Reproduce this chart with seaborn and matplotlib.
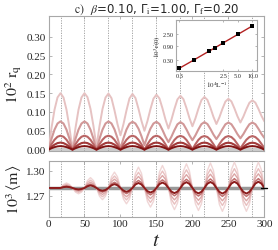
"""Quench dynamics: r_q(t) and <m>(t) for several system sizes, with scaling inset."""

import matplotlib

matplotlib.use("Agg")
import matplotlib.pyplot as plt
import numpy as np
import seaborn as sns
from matplotlib.ticker import FixedLocator, FixedFormatter, NullLocator

# time grid, 8 samples per oscillation period (T = 33.3)
t = np.linspace(0, 300, 73)

# half-period marks (dotted verticals)
t_half = [16.7, 50.0, 83.3, 116.7, 150.0, 183.3, 216.7, 250.0, 283.3]

# 10^2 r_q, smallest system (lightest) to largest (darkest)
rq_1 = [
    0, .0575, .106, .1386, .150, .1386, .106, .0575,
    0, .0575, .106, .1386, .150, .1392, .1084, .0624,
    .008, .062, .1077, .1383, .149, .1368, .1046, .068,
    .038, .0677, .104, .1359, .148, .1372, .1088, .0765,
    .050, .0759, .1076, .1354, .146, .1361, .110, .0803,
    .056, .0795, .1082, .1334, .143, .1341, .1106, .0839,
    .062, .0831, .1088, .1314, .140, .1321, .1112, .0874,
    .068, .0861, .1082, .1276, .135, .1281, .1098, .089,
    .072, .0879, .1074, .1245, .131, .1248, .1086, .0901,
    .075,
]
rq_2 = [
    0, .0287, .053, .0693, .075, .0693, .053, .0287,
    0, .0287, .053, .0693, .075, .0693, .053, .0287,
    0, .0287, .053, .0693, .075, .0695, .0539, .0306,
    .003, .0302, .0532, .0686, .074, .0693, .0558, .0357,
    .012, .0357, .0558, .0693, .074, .0681, .0524, .0346,
    .020, .0343, .0518, .0672, .073, .0677, .0538, .038,
    .025, .038, .0538, .0677, .073, .068, .055, .0402,
    .028, .0399, .0544, .0672, .072, .0674, .0552, .0413,
    .030, .0413, .0552, .0674, .072, .0675, .0556, .0421,
    .031,
]
rq_3 = [
    0, .0142, .0262, .0342, .037, .0342, .0262, .0142,
    0, .0142, .0262, .0342, .037, .0342, .0262, .0142,
    0, .0142, .0262, .0342, .037, .0342, .0262, .0142,
    0, .0142, .0262, .0342, .037, .0342, .0262, .0142,
    0, .0142, .0262, .0342, .037, .0342, .0262, .0142,
    0, .0140, .0258, .0337, .0365, .0337, .0258, .0140,
    .001, .0145, .0260, .0335, .036, .0335, .0260, .0145,
    .002, .0148, .0260, .0333, .036, .0333, .0260, .0150,
    .003, .0152, .0262, .0333, .036, .0333, .0262, .0155,
    .004,
]
rq_4 = [
    0, .0072, .0132, .0173, .0187, .0173, .0132, .0072,
    0, .0072, .0132, .0173, .0187, .0173, .0132, .0072,
    0, .0072, .0132, .0173, .0187, .0173, .0132, .0072,
    0, .0072, .0132, .0173, .0187, .0173, .0132, .0072,
    0, .0072, .0132, .0173, .0187, .0173, .0132, .0072,
    0, .0072, .0132, .0173, .0187, .0173, .0132, .0072,
    0, .0072, .0132, .0173, .0187, .0173, .0132, .0072,
    0, .0071, .0130, .0170, .0184, .0170, .0130, .0071,
    0, .0071, .0130, .0170, .0184, .0170, .0130, .0071,
    0,
]
rq_5 = [
    0, .0036, .0066, .0086, .0093, .0086, .0066, .0036,
    0, .0036, .0066, .0086, .0093, .0086, .0066, .0036,
    0, .0036, .0066, .0086, .0093, .0086, .0066, .0036,
    0, .0036, .0066, .0086, .0093, .0086, .0066, .0036,
    0, .0036, .0066, .0086, .0093, .0086, .0066, .0036,
    0, .0036, .0066, .0086, .0093, .0086, .0066, .0036,
    0, .0036, .0066, .0086, .0093, .0086, .0066, .0036,
    0, .0036, .0066, .0086, .0093, .0086, .0066, .0036,
    0, .0036, .0066, .0086, .0093, .0086, .0066, .0036,
    0,
]

# 10^3 <m>: equilibrium value and deviations from it
m_eq = 1.2792
dm_1 = [
    0, 0, 0, 0, 0, .0042, .006, .0042,
    0, -.005, -.007, -.005, 0, .0088, .0124, .0088,
    0, -.0099, -.014, -.0099, 0, .0134, .019, .0134,
    0, -.0134, -.019, -.0134, 0, .0177, .025, .0177,
    0, -.0163, -.023, -.0163, 0, .0191, .027, .0191,
    0, -.0184, -.026, -.0184, 0, .0205, .029, .0205,
    0, -.0191, -.027, -.0191, 0, .0212, .030, .0212,
    0, -.0198, -.028, -.0198, 0, .0219, .031, .0219,
    0, -.0198, -.028, -.0198, 0, .0219, .031, .0219,
    0,
]
dm_2 = [
    0, 0, 0, 0, 0, .0032, .0045, .0032,
    0, -.0037, -.0053, -.0037, 0, .0066, .0093, .0066,
    0, -.0074, -.0105, -.0074, 0, .0101, .0143, .0101,
    0, -.0101, -.0143, -.0101, 0, .0133, .0188, .0133,
    0, -.0122, -.0173, -.0122, 0, .0143, .0203, .0143,
    0, -.0138, -.0195, -.0138, 0, .0154, .0218, .0154,
    0, -.0143, -.0203, -.0143, 0, .0159, .0225, .0159,
    0, -.0149, -.021, -.0149, 0, .0164, .0232, .0164,
    0, -.0149, -.021, -.0149, 0, .0164, .0232, .0164,
    0,
]
dm_3 = [
    0, 0, 0, 0, 0, .0023, .0033, .0023,
    0, -.0027, -.0039, -.0027, 0, .0048, .0068, .0048,
    0, -.0054, -.0077, -.0054, 0, .0074, .0105, .0074,
    0, -.0074, -.0105, -.0074, 0, .0097, .0138, .0097,
    0, -.009, -.0127, -.009, 0, .0105, .0149, .0105,
    0, -.0101, -.0143, -.0101, 0, .0113, .016, .0113,
    0, -.0105, -.0149, -.0105, 0, .0117, .0165, .0117,
    0, -.0109, -.0154, -.0109, 0, .012, .017, .012,
    0, -.0109, -.0154, -.0109, 0, .012, .017, .012,
    0,
]
dm_4 = [
    0, 0, 0, 0, 0, .0015, .0022, .0015,
    0, -.0018, -.0025, -.0018, 0, .0032, .0045, .0032,
    0, -.0036, -.005, -.0036, 0, .0048, .0068, .0048,
    0, -.0048, -.0068, -.0048, 0, .0064, .009, .0064,
    0, -.0059, -.0083, -.0059, 0, .0069, .0097, .0069,
    0, -.0066, -.0094, -.0066, 0, .0074, .0104, .0074,
    0, -.0069, -.0097, -.0069, 0, .0076, .0108, .0076,
    0, -.0071, -.0101, -.0071, 0, .0079, .0112, .0079,
    0, -.0071, -.0101, -.0071, 0, .0079, .0112, .0079,
    0,
]
dm_5 = [
    0, 0, 0, 0, 0, .0010, .0014, .0010,
    0, -.0012, -.0017, -.0012, 0, .0021, .003, .0021,
    0, -.0024, -.0034, -.0024, 0, .0032, .0046, .0032,
    0, -.0032, -.0046, -.0032, 0, .0042, .006, .0042,
    0, -.0039, -.0055, -.0039, 0, .0046, .0065, .0046,
    0, -.0044, -.0062, -.0044, 0, .0049, .007, .0049,
    0, -.0046, -.0065, -.0046, 0, .0051, .0072, .0051,
    0, -.0047, -.0067, -.0047, 0, .0053, .0075, .0053,
    0, -.0047, -.0067, -.0047, 0, .0053, .0075, .0053,
    0,
]

# inset: scaling of the initial growth with inverse system size
inv_L = [0.3125, 0.625, 1.25, 1.667, 2.5, 5.0, 10.0]
rate = [0.15, 0.295, 0.59, 0.78, 1.18, 2.35, 4.7]

colors_top = ["#e6c2c2", "#d19898", "#ba6666", "#a23a3a", "#801414"]
colors_bot = ["#f0d6d6", "#e8c0c0", "#dba6a6", "#c07070", "#8c1c1c"]
lw_top = [1.4, 1.5, 1.5, 1.5, 1.4]
lw_bot = [1.0, 1.0, 1.0, 1.1, 1.4]
frame_col = "#a8a8a8"


def _style_frame(ax):
    for sp in ax.spines.values():
        sp.set_color(frame_col)
        sp.set_linewidth(0.8)
    ax.tick_params(direction="in", top=True, right=True, length=2.5,
                   width=0.6, color=frame_col, labelsize=8, pad=2)


def main() -> None:
    sns.set_style("ticks")
    plt.rcParams["font.family"] = ["Liberation Serif", "DejaVu Serif"]
    plt.rcParams["mathtext.fontset"] = "stix"

    fig = plt.figure(figsize=(2.78, 2.51), dpi=100)
    ax_top = fig.add_axes([0.1745, 0.394, 0.7765, 0.538])
    ax_bot = fig.add_axes([0.1745, 0.133, 0.7765, 0.223])

    # --- top panel: r_q
    ax_top.axhline(0, color="#cccccc", lw=3, zorder=1)
    for x in t_half:
        ax_top.axvline(x, color="#999999", lw=0.6, ls=(0, (1.5, 1.5)), zorder=1)
    for vals, c, lw in zip([rq_1, rq_2, rq_3, rq_4, rq_5], colors_top, lw_top):
        sns.lineplot(x=t, y=vals, ax=ax_top, color=c, lw=lw, zorder=3)
    ax_top.set_xlim(0, 300)
    ax_top.set_ylim(-0.004, 0.355)
    ax_top.set_yticks([0.0, 0.05, 0.10, 0.15, 0.20, 0.25, 0.30])
    ax_top.set_yticklabels([f"{v:.2f}" for v in ax_top.get_yticks()])
    ax_top.set_xticks([0, 50, 100, 150, 200, 250, 300])
    ax_top.set_xticklabels([])
    ax_top.set_ylabel(r"$10^2\ \mathrm{r_q}$", fontsize=11.5)
    ax_top.yaxis.set_label_coords(-0.112, 0.5)
    _style_frame(ax_top)
    ax_top.set_title(r"$\mathrm{c)}$  $\beta$=0.10, Γ$_\mathrm{i}$=1.00, Γ$_\mathrm{f}$=0.20",
                     fontsize=8.5, family="DejaVu Sans", pad=3)

    # --- bottom panel: <m>
    ax_bot.axhline(m_eq, color="#999999", lw=2.5, zorder=1)
    ax_bot.axhline(m_eq, xmin=0.985, xmax=1.012, color="k", lw=1.0,
                   clip_on=False, zorder=4)
    for x in t_half:
        ax_bot.axvline(x, color="#999999", lw=0.6, ls=(0, (1.5, 1.5)), zorder=1)
    for dm, c, lw in zip([dm_1, dm_2, dm_3, dm_4, dm_5], colors_bot, lw_bot):
        sns.lineplot(x=t, y=m_eq + np.array(dm), ax=ax_bot, color=c, lw=lw, zorder=3)
    ax_bot.set_xlim(0, 300)
    ax_bot.set_ylim(1.2448, 1.312)
    ax_bot.set_yticks([1.27, 1.30])
    ax_bot.set_yticklabels(["1.27", "1.30"])
    ax_bot.set_xticks([0, 50, 100, 150, 200, 250, 300])
    ax_bot.set_xticklabels(["0", "50", "100", "150", "200", "250", "300"])
    ax_bot.set_ylabel(r"$10^3\,\langle \mathrm{m}\rangle$", fontsize=11.5)
    ax_bot.yaxis.set_label_coords(-0.115, 0.5)
    ax_bot.set_xlabel(r"$t$", fontsize=15, labelpad=2)
    _style_frame(ax_bot)

    # --- inset
    ax_in = fig.add_axes([0.633, 0.713, 0.291, 0.203])
    ax_in.plot(inv_L, rate, color="#b22222", lw=1.0, zorder=2)
    sns.scatterplot(x=inv_L, y=rate, ax=ax_in, color="k", marker="s", s=7,
                    linewidth=0, zorder=3)
    ax_in.set_xscale("log")
    ax_in.set_yscale("log")
    ax_in.set_xlim(0.267, 12.3)
    ax_in.set_ylim(0.12, 7.5)
    ax_in.xaxis.set_major_locator(FixedLocator([0.3125, 2.5, 5.0, 10.0]))
    ax_in.xaxis.set_major_formatter(FixedFormatter(["0.3", "2.5", "5.0", "10.0"]))
    ax_in.xaxis.set_minor_locator(NullLocator())
    ax_in.yaxis.set_major_locator(FixedLocator([0.3, 0.9, 2.5]))
    ax_in.yaxis.set_major_formatter(FixedFormatter(["0.30", "0.90", "2.50"]))
    ax_in.yaxis.set_minor_locator(NullLocator())
    _style_frame(ax_in)
    ax_in.tick_params(labelsize=4.5, length=1.5, pad=1.5)
    ax_in.set_xlabel(r"$10^4\mathrm{L}^{-1}$", fontsize=5, labelpad=1)
    ax_in.set_ylabel(r"$10^3\,\dot{\mathrm{r}}(0)$", fontsize=5, labelpad=1)

    fig.savefig("out.png", dpi=100)
    plt.close(fig)


if __name__ == "__main__":
    main()
